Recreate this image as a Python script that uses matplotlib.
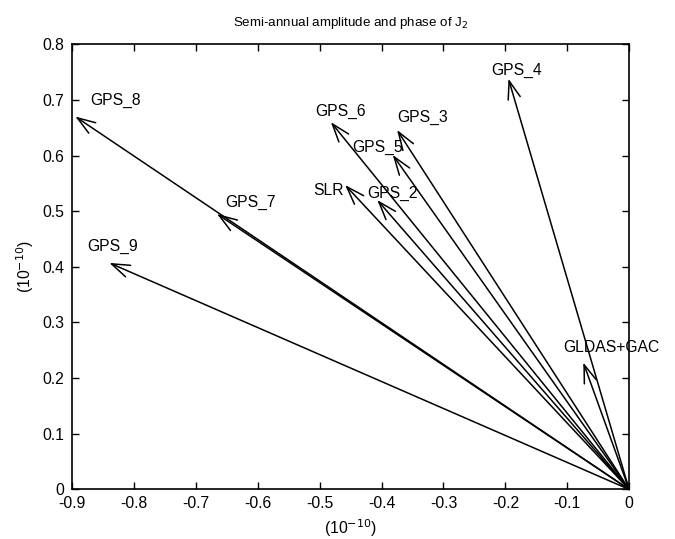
import matplotlib.pyplot as plt

plt.rcParams['font.family'] = ['Liberation Sans', 'DejaVu Sans']

# arrow tips (real, imag) in units of 1e-10
names = ['GPS_2', 'GPS_3', 'GPS_4', 'GPS_5', 'GPS_6', 'GPS_7', 'GPS_8', 'GPS_9', 'SLR', 'GLDAS+GAC']
re_part = [-0.407, -0.375, -0.195, -0.382, -0.482, -0.666, -0.895, -0.840, -0.459, -0.074]
im_part = [0.520, 0.646, 0.738, 0.601, 0.660, 0.495, 0.670, 0.407, 0.547, 0.228]

# where each name is written
label_x = [-0.423, -0.375, -0.222, -0.448, -0.508, -0.652, -0.871, -0.876, -0.510, -0.107]
label_y = [0.532, 0.668, 0.752, 0.614, 0.680, 0.516, 0.699, 0.437, 0.538, 0.255]

fig = plt.figure(figsize=(6.75, 5.39), dpi=100)
ax = fig.add_axes([0.107, 0.092, 0.825, 0.826])

for name, x, y, lx, ly in zip(names, re_part, im_part, label_x, label_y):
    ax.annotate('', xy=(x, y), xytext=(0, 0),
                arrowprops=dict(arrowstyle='->,head_length=1.3,head_width=0.45',
                                color='k', lw=1.1, shrinkA=0, shrinkB=0,
                                mutation_scale=10))
    ax.text(lx, ly, name, ha='left', va='center', fontsize=11.3)

ax.set_xlim(-0.9, 0)
ax.set_ylim(0, 0.8)
ax.set_xticks([-0.9, -0.8, -0.7, -0.6, -0.5, -0.4, -0.3, -0.2, -0.1, 0])
ax.set_xticklabels(['-0.9', '-0.8', '-0.7', '-0.6', '-0.5', '-0.4', '-0.3', '-0.2', '-0.1', '0'])
ax.set_yticks([0, 0.1, 0.2, 0.3, 0.4, 0.5, 0.6, 0.7, 0.8])
ax.set_yticklabels(['0', '0.1', '0.2', '0.3', '0.4', '0.5', '0.6', '0.7', '0.8'])
ax.tick_params(direction='in', top=True, right=True, length=5, width=1, labelsize=11.3)
ax.tick_params(axis='x', pad=5)
ax.tick_params(axis='y', pad=6)
for s in ax.spines.values():
    s.set_linewidth(1.2)

ax.set_xlabel('(10$^{-10}$)', fontsize=11.3, labelpad=4)
ax.set_ylabel('(10$^{-10}$)', fontsize=11.3, labelpad=4)
ax.set_title('Semi-annual amplitude and phase of J$_2$', fontsize=9.6, pad=13)

fig.savefig('out.png', dpi=100)
